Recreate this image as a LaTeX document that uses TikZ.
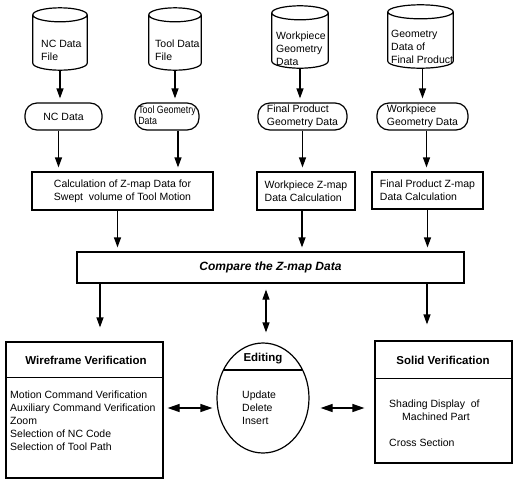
\documentclass[tikz,border=0pt]{standalone}
\usepackage{fontspec}
\usepackage{graphicx}
\setmainfont{Liberation Sans}
\usetikzlibrary{arrows.meta,calc,shapes.geometric}

% cylinder drawn around an empty node: top ellipse, sides, lower half arc
\newcommand\drumoutline[1]{%
  \draw[ln] let \p1=(#1.north west), \p2=(#1.north east), \n1={(\x2-\x1)/2} in
    ([yshift=-7pt]#1.north west) -- ([yshift=7pt]#1.south west)
    arc[start angle=180, end angle=360, x radius=\n1, y radius=7pt]
    -- ([yshift=-7pt]#1.north east)
    ([yshift=-7pt]#1.north) ellipse[x radius=\n1, y radius=7pt];}

\begin{document}
\begin{tikzpicture}[x=1pt, y=-1pt,
  ln/.style={line width=1.2pt},
  body/.style={font=\fontsize{10.5}{13}\selectfont, inner sep=0pt},
  heading/.style={font=\fontsize{11.5}{14}\selectfont\bfseries, inner sep=0pt},
  box/.style={draw, ln, rectangle, inner sep=0pt, font=\fontsize{10.5}{13}\selectfont},
  pill/.style={box, rounded corners=12pt, minimum height=27pt},
  drum/.style={inner sep=0pt, minimum height=62pt},
  arr/.style={ln, -{Triangle[length=10pt, width=7pt]}, shorten >=4pt},
  biarr/.style={ln, {Triangle[length=12pt, width=8pt]}-{Triangle[length=12pt, width=8pt]}},
]
\useasboundingbox (0,0) rectangle (514,480);

% data files
\node[drum, minimum width=54pt] (cy1) at (60,39) {};
\node[drum, minimum width=52pt] (cy2) at (175,39) {};
\node[drum, minimum width=56pt] (cy3) at (300,37) {};
\node[drum, minimum width=65pt, minimum height=63pt] (cy4) at (420.5,36.5) {};
\drumoutline{cy1}
\drumoutline{cy2}
\drumoutline{cy3}
\drumoutline{cy4}
\node[body, anchor=west, align=left] (cy1t) at (41,50) {NC Data\\File};
\node[body, anchor=west, align=left] (cy2t) at (155,50) {Tool Data\\File};
\node[body, anchor=west, align=left] (cy3t) at (276,49) {Workpiece\\Geometry\\Data};
\node[body, anchor=west, align=left] (cy4t) at (391,47) {Geometry\\Data of\\Final Product};

% data read from the files
\node[pill, minimum width=77pt] (p1) at (63.5,116.5) {NC Data};
\node[pill, minimum width=64pt] (p2) at (167,116.5) {\scalebox{0.84}[1]{\begin{tabular}{@{}l@{}}Tool Geometry\\[-2pt]Data\end{tabular}}};
\node[pill, minimum width=89pt, align=left] (p3) at (302.5,116.5) {Final Product\\Geometry Data};
\node[pill, minimum width=91pt, align=left] (p4) at (422.5,116.5) {Workpiece\\Geometry Data};

% Z-map calculations
\node[box, minimum width=181pt, minimum height=38pt, align=center] (c1) at (122.5,191) {Calculation of Z-map Data for\\Swept~ volume of Tool Motion};
\node[box, minimum width=98pt, minimum height=38pt, align=left] (c2) at (306,191) {Workpiece Z-map\\Data Calculation};
\node[box, minimum width=111pt, minimum height=37pt, align=left] (c3) at (427.5,190.5) {Final Product Z-map\\Data Calculation};

% comparison
\node[box, minimum width=387pt, minimum height=31pt, font=\fontsize{12}{14}\selectfont\bfseries\itshape] (cmp) at (270.5,267.5) {Compare the Z-map Data};

% wireframe verification
\node[box, minimum width=157pt, minimum height=136pt] (wf) at (84.5,410) {};
\draw[ln] ([yshift=-36pt]wf.north west) -- ([yshift=-36pt]wf.north east);
\node[heading] (wft) at (86,360) {Wireframe Verification};
\node[body, anchor=west, align=left] (wfl) at (10,421) {Motion Command Verification\\Auxiliary Command Verification\\Zoom\\Selection of NC Code\\Selection of Tool Path};

% editing
\node[draw, ln, ellipse, minimum width=92pt, minimum height=110pt, inner sep=0pt] (ed) at (263,398) {};
\draw[ln] ($(ed.center)+(-39.6,-28)$) -- ($(ed.center)+(39.6,-28)$);
\node[heading] (edt) at (263,359) {Editing};
\node[body, anchor=west, align=left] (edl) at (242,408) {Update\\Delete\\Insert};

% solid verification
\node[box, minimum width=137pt, minimum height=122pt] (sv) at (443.5,402) {};
\draw[ln] ([yshift=-38pt]sv.north west) -- ([yshift=-38pt]sv.north east);
\node[heading] (svt) at (443,360) {Solid Verification};
\node[body, anchor=west, align=left] (svl) at (389,410.5) {Shading Display\ \ of\\\hspace{13pt}Machined Part};
\node[body, anchor=west] (svc) at (389,443) {Cross Section};

% connectors
\draw[arr] (cy1.south) -- (cy1.south |- p1.north);
\draw[arr] (cy2.south) -- (cy2.south |- p2.north);
\draw[arr] (cy3.south) -- (cy3.south |- p3.north);
\draw[arr] ([xshift=2pt]cy4.south) -- ([xshift=2pt]cy4.south |- p4.north);
\draw[arr] ([xshift=-5pt]p1.south) -- ([xshift=-5pt]p1.south |- c1.north);
\draw[arr] ([xshift=11pt]p2.south) -- ([xshift=11pt]p2.south |- c1.north);
\draw[arr] (p3.south) -- (p3.south |- c2.north);
\draw[arr] ([xshift=4pt]p4.south) -- ([xshift=4pt]p4.south |- c3.north);
\draw[arr] ([xshift=-5pt]c1.south) -- ([xshift=-5pt]c1.south |- cmp.north);
\draw[arr] ([xshift=-4pt]c2.south) -- ([xshift=-4pt]c2.south |- cmp.north);
\draw[arr] (c3.south) -- (c3.south |- cmp.north);
\draw[arr, shorten >=14pt] ([xshift=15.5pt]wf.north |- cmp.south) -- ([xshift=15.5pt]wf.north);
\draw[arr, shorten >=16pt] ([xshift=-16.5pt]sv.north |- cmp.south) -- ([xshift=-16.5pt]sv.north);
\draw[biarr, {Triangle[length=10pt, width=7pt]}-{Triangle[length=10pt, width=7pt]}, shorten <=6pt, shorten >=10pt] ([xshift=3pt]ed.north |- cmp.south) -- ([xshift=3pt]ed.north);
\draw[biarr, shorten <=4pt, shorten >=4pt] ([yshift=2pt]wf.east) -- ([yshift=2pt]wf.east -| ed.west);
\draw[biarr, shorten <=11pt, shorten >=10pt] ([yshift=-6pt]sv.west -| ed.east) -- ([yshift=-6pt]sv.west);
\end{tikzpicture}
\end{document}
